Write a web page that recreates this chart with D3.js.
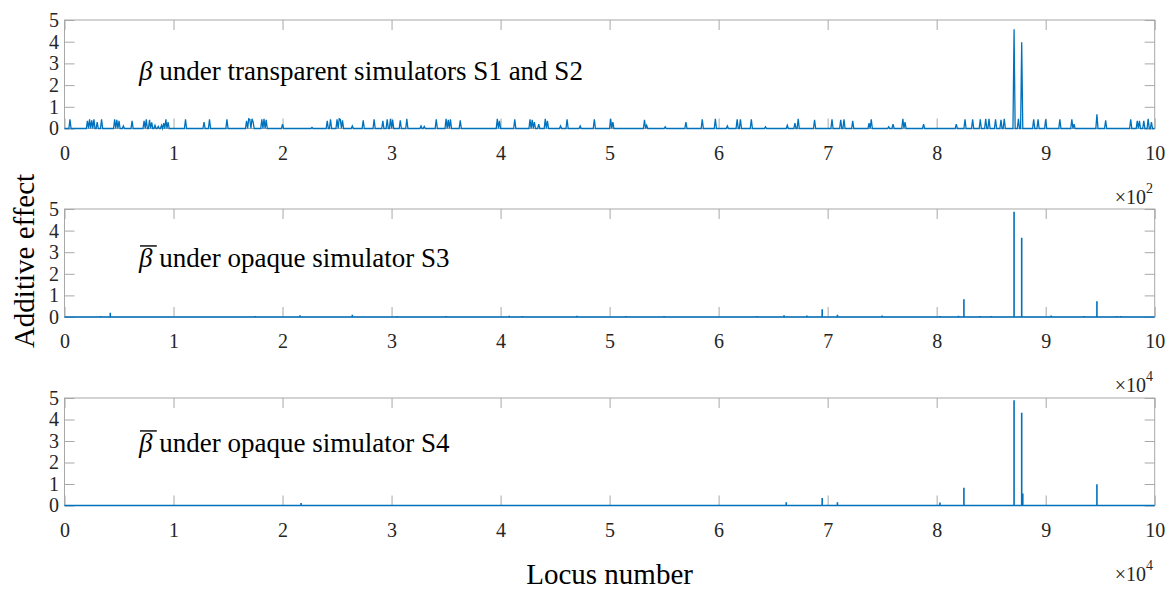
<!DOCTYPE html>
<html>
<head>
<meta charset="utf-8">
<script src="https://cdn.jsdelivr.net/npm/d3@7"></script>
<style>
  svg text { font-family: "Liberation Serif", "Times New Roman", serif; }
</style>
</head>
<body style="margin:0">
<svg id="chart" width="1168" height="590"></svg>
<script>
// ---------------- data ----------------
const xTicks = [0, 1, 2, 3, 4, 5, 6, 7, 8, 9, 10];
const yTicks = [0, 1, 2, 3, 4, 5];
const panelTitles = ["under transparent simulators S1 and S2", "under opaque simulator S3", "under opaque simulator S4"];
const panelBars = [false, true, true];
const xScaleLabels = ["2", "4", "4"];
const xAxisTitle = "Locus number";
const yAxisTitle = "Additive effect";

// Panel 1: 1000 loci (x in units of 10^2); nonzero loci and their effects
const s1Loci = [5,21,23,25,27,30,34,46,48,50,54,62,73,75,78,80,83,86,89,91,93,95,111,128,133,149,
  167,169,170,172,173,181,183,185,200,227,241,244,250,252,253,255,264,274,284,292,296,299,301,
  308,314,327,330,341,350,352,354,363,397,399,413,427,429,431,435,441,443,455,461,473,486,501,503,
  532,534,551,570,585,597,608,617,620,630,643,663,670,673,688,704,712,715,723,738,740,756,760,
  769,771,788,818,826,833,840,845,848,854,859,862,871,875,878,889,893,900,913,924,926,947,955,
  978,984,986,990,994,997];
const s1Vals = [0.42,0.35,0.42,0.38,0.42,0.3,0.42,0.42,0.4,0.35,0.12,0.35,0.35,0.42,0.4,0.28,0.15,0.1,0.15,0.25,0.42,0.3,0.42,0.3,0.42,0.42,
  0.35,0.45,0.42,0.45,0.3,0.42,0.45,0.4,0.2,0.05,0.35,0.42,0.42,0.45,0.42,0.38,0.12,0.38,0.42,0.35,0.42,0.45,0.4,
  0.38,0.45,0.12,0.1,0.42,0.45,0.4,0.42,0.38,0.45,0.35,0.42,0.42,0.4,0.3,0.2,0.45,0.35,0.12,0.42,0.12,0.42,0.45,0.3,
  0.4,0.15,0.08,0.3,0.42,0.45,0.12,0.42,0.42,0.42,0.08,0.15,0.25,0.45,0.4,0.42,0.4,0.42,0.35,0.25,0.42,0.08,0.2,
  0.45,0.3,0.2,0.2,0.42,0.42,0.42,0.45,0.45,0.42,0.4,0.45,4.57,0.45,3.97,0.42,0.42,0.42,0.42,0.42,0.2,0.65,0.38,
  0.42,0.35,0.35,0.35,0.45,0.3];

// Panel 2: 100000 loci (x in units of 10^4); loci with visible effects
const s3Loci = [3300,4200,8800,12000,15000,17500,21600,25000,26400,30500,32500,35000,38000,40800,42000,44500,47000,
  49500,51500,53000,55000,56500,60000,63500,66000,68100,69500,70900,75000,77500,80300,82000,82500,84000,85000,
  87100,87800,90500,93500,94700,96500,96900];
const s3Vals = [0.05,0.2,0.04,0.04,0.03,0.05,0.08,0.04,0.1,0.05,0.04,0.05,0.04,0.06,0.05,0.04,0.06,
  0.04,0.05,0.04,0.05,0.04,0.04,0.05,0.08,0.07,0.36,0.1,0.07,0.04,0.05,0.06,0.82,0.05,0.05,
  4.87,3.67,0.07,0.05,0.73,0.05,0.05];

// Panel 3: 100000 loci (x in units of 10^4)
const s4Loci = [21700,66200,69500,70900,80300,82500,87100,87800,87900,94700];
const s4Vals = [0.12,0.15,0.35,0.15,0.14,0.82,4.9,4.31,0.56,0.99];

// ---------------- build ----------------
const FONT = "Liberation Serif";
const svg = d3.select("#chart").attr("font-family", FONT);
const lineColor = "#0072BD";
const frameColor = "#a8a8a8";
const tickColor = "#262626";

const x = d3.scaleLinear().domain([0, 10]).range([64.5, 1154.7]);
const panels = [{top: 20, bottom: 128.5}, {top: 209, bottom: 317}, {top: 398, bottom: 505.5}];
const titleBaselines = [80, 267, 452];
const titleX = 139;
const titleSize = 27;

// series in data units
const series = [];
{
  const full = new Array(1001).fill(0);
  s1Loci.forEach((l, i) => { full[l] = s1Vals[i]; });
  series.push(full.map((v, i) => ({x: i / 100, y: v})));
}
function spikes(loci, vals) {
  const pts = [{x: 0, y: 0}];
  loci.forEach((l, i) => {
    const xv = l / 10000;
    pts.push({x: xv, y: 0}, {x: xv, y: vals[i]}, {x: xv, y: 0});
  });
  pts.push({x: 10, y: 0});
  return pts;
}
series.push(spikes(s3Loci, s3Vals));
series.push(spikes(s4Loci, s4Vals));

panels.forEach((p, k) => {
  const y = d3.scaleLinear().domain([0, 5]).range([p.bottom, p.top]);
  const g = svg.append("g");

  // frame
  g.append("rect")
    .attr("x", x(0)).attr("y", y(5))
    .attr("width", x(10) - x(0)).attr("height", y(0) - y(5))
    .attr("fill", "none").attr("stroke", frameColor).attr("stroke-width", 1);

  const styleAxis = a => {
    a.attr("font-family", FONT).attr("font-size", 20);
    a.select(".domain").remove();
    a.selectAll(".tick line").attr("stroke", frameColor);
    a.selectAll(".tick text").attr("fill", tickColor);
  };
  g.append("g").attr("transform", `translate(0,${y(0)})`)
    .call(d3.axisBottom(x).tickValues(xTicks).tickSize(-10).tickPadding(17).tickFormat(d3.format("d")))
    .call(styleAxis);
  g.append("g").attr("transform", `translate(0,${y(5)})`)
    .call(d3.axisTop(x).tickValues(xTicks).tickSize(-10).tickFormat(""))
    .call(styleAxis);
  g.append("g").attr("transform", `translate(${x(0)},0)`)
    .call(d3.axisLeft(y).tickValues(yTicks).tickSize(-10).tickPadding(5.5).tickFormat(d3.format("d")))
    .call(styleAxis);
  g.append("g").attr("transform", `translate(${x(10)},0)`)
    .call(d3.axisRight(y).tickValues(yTicks).tickSize(-10).tickFormat(""))
    .call(styleAxis);

  // data line
  const line = d3.line().x(d => x(d.x)).y(d => y(d.y));
  g.append("path").datum(series[k])
    .attr("d", line)
    .attr("fill", "none").attr("stroke", lineColor)
    .attr("stroke-width", k === 0 ? 1.3 : 1.6)
    .attr("stroke-linejoin", "miter");

  // panel title
  const t = g.append("text")
    .attr("x", titleX).attr("y", titleBaselines[k])
    .attr("fill", "#000").attr("font-family", FONT).attr("font-size", titleSize);
  t.append("tspan").attr("font-style", "italic").text("β");
  t.append("tspan").text(" " + panelTitles[k]);
  if (panelBars[k]) {
    g.append("line")
      .attr("x1", titleX + 1).attr("x2", titleX + 0.66 * titleSize)
      .attr("y1", titleBaselines[k] - 0.78 * titleSize).attr("y2", titleBaselines[k] - 0.78 * titleSize)
      .attr("stroke", "#000").attr("stroke-width", 1.4);
  }

  // ×10^n
  const m = g.append("text")
    .attr("x", 1153).attr("y", y(0) + 75)
    .attr("text-anchor", "end").attr("fill", tickColor)
    .attr("font-family", FONT).attr("font-size", 20);
  m.append("tspan").text("×10");
  m.append("tspan").attr("dy", -11).attr("font-size", 14).text(xScaleLabels[k]);
});

// axis titles
svg.append("text")
  .attr("transform", "translate(34,261) rotate(-90)")
  .attr("text-anchor", "middle").attr("fill", "#000")
  .attr("font-family", FONT).attr("font-size", 29)
  .text(yAxisTitle);
svg.append("text")
  .attr("x", 609.6).attr("y", 584)
  .attr("text-anchor", "middle").attr("fill", "#000")
  .attr("font-family", FONT).attr("font-size", 29)
  .text(xAxisTitle);
</script>
</body>
</html>
